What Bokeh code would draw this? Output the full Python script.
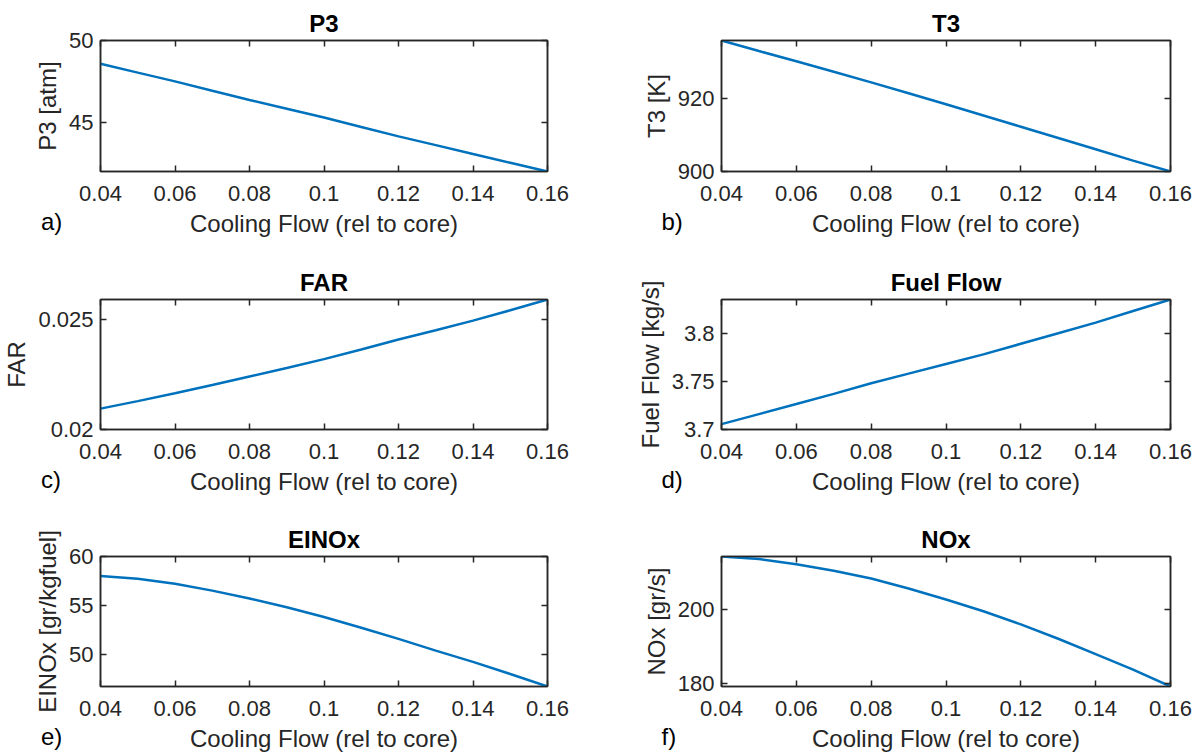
from bokeh.plotting import figure
from bokeh.layouts import gridplot
from bokeh.models import LinearAxis, FixedTicker, CustomJSTickFormatter, Range1d, Label
from bokeh.embed import file_html
from bokeh.resources import INLINE

# ---- data ----
cooling_flow = [0.04, 0.05, 0.06, 0.07, 0.08, 0.09, 0.10, 0.11, 0.12, 0.13, 0.14, 0.15, 0.16]
p3_atm = [48.59, 48.05, 47.52, 46.95, 46.39, 45.86, 45.33, 44.75, 44.18, 43.65, 43.11, 42.58, 42.05]
t3_k = [936.0, 933.1, 930.3, 927.4, 924.5, 921.5, 918.5, 915.4, 912.3, 909.2, 906.1, 903.0, 900.0]
far = [0.02095, 0.02129, 0.02165, 0.02202, 0.02241, 0.02280, 0.02320, 0.02364, 0.02409, 0.02451, 0.02495, 0.02542, 0.02591]
fuel_flow = [3.7056, 3.716, 3.7264, 3.737, 3.748, 3.758, 3.768, 3.778, 3.789, 3.800, 3.811, 3.823, 3.835]
einox = [58.0, 57.73, 57.2, 56.5, 55.7, 54.8, 53.8, 52.7, 51.55, 50.35, 49.2, 47.95, 46.67]
nox = [214.5, 213.8, 212.4, 210.6, 208.5, 205.8, 202.8, 199.6, 196.0, 192.1, 187.9, 183.7, 179.1]

x_ticks = [0.04, 0.06, 0.08, 0.10, 0.12, 0.14, 0.16]
x_label = "Cooling Flow (rel to core)"

titles = ["P3", "T3", "FAR", "Fuel Flow", "EINOx", "NOx"]
y_labels = ["P3 [atm]", "T3 [K]", "FAR", "Fuel Flow [kg/s]", "EINOx [gr/kgfuel]", "NOx [gr/s]"]
letters = ["a)", "b)", "c)", "d)", "e)", "f)"]
series = [p3_atm, t3_k, far, fuel_flow, einox, nox]
y_limits = [(42.05, 50.0), (900.0, 936.0), (0.02, 0.02591), (3.7, 3.835), (46.67, 60.0), (179.1, 214.5)]
y_ticks = [[45, 50], [900, 920], [0.02, 0.025], [3.7, 3.75, 3.8], [50, 55, 60], [180, 200]]

FONT = "Liberation Sans"
AX = "#262626"
LINE = "#0072BD"

fmt_code = "return String(Number(tick.toPrecision(6)));"


def make_panel(i):
    col = i % 2
    row = i // 2
    width = 600 if col == 0 else 598
    height = 258 if row < 2 else 238
    b_left = 97 if col == 0 else 121
    b_right = 53 if col == 0 else 28
    b_top = 40 if row != 1 else 41
    b_bottom = 87 if row < 2 else 68
    frame_w = width - b_left - b_right
    frame_h = height - b_top - b_bottom

    x0, x1 = cooling_flow[0], cooling_flow[-1]
    y0, y1 = y_limits[i]

    p = figure(width=width, height=height, output_backend="svg", toolbar_location=None,
               x_range=Range1d(x0, x1), y_range=Range1d(y0, y1),
               min_border_left=b_left, min_border_right=b_right,
               min_border_top=b_top, min_border_bottom=b_bottom,
               x_axis_location=None, y_axis_location=None)
    p.xgrid.visible = False
    p.ygrid.visible = False
    p.outline_line_color = AX
    p.outline_line_width = 1.5
    p.background_fill_color = "white"
    p.border_fill_color = "white"

    p.title.text = titles[i]
    p.title.align = "center"
    p.title.text_font = FONT
    p.title.text_font_size = "24px"
    p.title.text_font_style = "bold"
    p.title.text_color = "black"
    p.title.standoff = 8

    def style(ax, labels=True):
        ax.axis_line_color = AX
        ax.axis_line_width = 1.5
        ax.major_tick_line_color = AX
        ax.major_tick_line_width = 1.5
        ax.major_tick_in = 6
        ax.major_tick_out = 0
        ax.minor_tick_line_color = None
        ax.major_label_text_font = FONT
        ax.major_label_text_color = AX
        if labels:
            ax.major_label_text_font_size = "22px"
            ax.axis_label_text_font = FONT
            ax.axis_label_text_font_size = "24px"
            ax.axis_label_text_font_style = "normal"
            ax.axis_label_text_color = AX
        else:
            ax.major_label_text_font_size = "1px"
            ax.major_label_text_alpha = 0
            ax.major_label_standoff = 0

    xb = LinearAxis(ticker=FixedTicker(ticks=x_ticks), formatter=CustomJSTickFormatter(code=fmt_code),
                    axis_label=x_label)
    style(xb)
    xb.major_label_standoff = 14
    xb.axis_label_standoff = 6
    p.add_layout(xb, "below")

    yl = LinearAxis(ticker=FixedTicker(ticks=y_ticks[i]), formatter=CustomJSTickFormatter(code=fmt_code),
                    axis_label=y_labels[i])
    style(yl)
    yl.major_label_standoff = 7
    yl.axis_label_standoff = 5
    p.add_layout(yl, "left")

    xt = LinearAxis(ticker=FixedTicker(ticks=x_ticks))
    style(xt, labels=False)
    p.add_layout(xt, "above")

    yr = LinearAxis(ticker=FixedTicker(ticks=y_ticks[i]))
    style(yr, labels=False)
    p.add_layout(yr, "right")

    p.line(cooling_flow, series[i], line_color=LINE, line_width=2.5)

    # panel letter: 60 px left of the frame, 50 px below it (converted through the ranges);
    # placed in a side panel so that it is not clipped to the frame
    lx = x0 - 60.0 / frame_w * (x1 - x0)
    ly = y0 - 50.0 / frame_h * (y1 - y0)
    p.add_layout(Label(x=lx, y=ly, text=letters[i],
                       text_font=FONT, text_font_size="24px", text_color="black",
                       text_align="left", text_baseline="middle"), "right")
    return p


figs = [make_panel(i) for i in range(6)]
grid = gridplot([[figs[0], figs[1]], [figs[2], figs[3]], [figs[4], figs[5]]],
                toolbar_location=None)

open("out.html", "w").write(file_html(grid, INLINE))
